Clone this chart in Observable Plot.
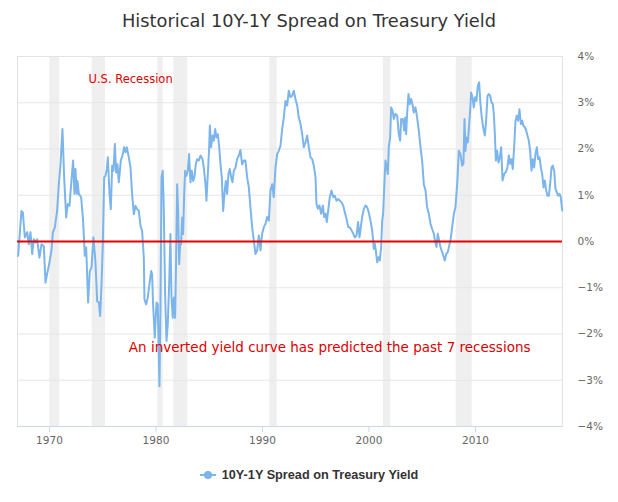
<!DOCTYPE html>
<html>
<head>
<meta charset="utf-8">
<script src="https://cdn.jsdelivr.net/npm/d3@7"></script>
<script src="https://cdn.jsdelivr.net/npm/@observablehq/plot@0.6"></script>
<style>
  html, body { margin: 0; padding: 0; background: #fff; }
  #wrap { width: 618px; height: 502px; overflow: hidden; }
  #title { height: 42px; box-sizing: border-box; padding-top: 11px; text-align: center;
    font-family: "DejaVu Sans", sans-serif; font-size: 17.8px; line-height: 20px; color: #333; }
  #chart svg { display: block; }
  #legend { box-sizing: border-box; padding-top: 3px; display: flex; justify-content: center; align-items: center;
    font-family: "Liberation Sans", Arial, sans-serif; font-weight: bold; font-size: 12.7px; line-height: 16px; color: #333; height: 22px; }
  #legend svg { margin-right: 6px; }
</style>
</head>
<body>
<div id="wrap">
  <div id="title">Historical 10Y-1Y Spread on Treasury Yield</div>
  <div id="chart"></div>
  <div id="legend"></div>
</div>
<script>
// ---- data (decimal years, % spread) ----
const years = [
  1967.06,1967.37,1967.50,1967.69,1967.91,1968.06,1968.22,1968.38,1968.53,1968.69,1968.84,
  1969.06,1969.25,1969.47,1969.63,1969.78,1969.94,1970.19,1970.32,1970.50,1970.72,1970.88,
  1971.04,1971.22,1971.38,1971.57,1971.72,1971.88,1972.04,1972.22,1972.35,1972.44,1972.57,
  1972.63,1972.76,1972.98,1973.16,1973.32,1973.45,1973.63,1973.79,1973.95,1974.13,1974.32,
  1974.48,1974.64,1974.76,1974.89,1975.01,1975.14,1975.26,1975.39,1975.48,1975.64,1975.76,
  1975.89,1976.01,1976.14,1976.26,1976.39,1976.51,1976.70,1976.89,1977.01,1977.14,1977.26,
  1977.45,1977.61,1977.76,1977.92,1978.08,1978.23,1978.39,1978.55,1978.70,1978.86,1978.92,
  1979.08,1979.23,1979.39,1979.55,1979.64,1979.73,1979.89,1980.05,1980.17,1980.33,1980.42,
  1980.52,1980.64,1980.74,1980.86,1980.99,1981.11,1981.24,1981.36,1981.46,1981.58,1981.68,
  1981.80,1981.89,1981.99,1982.08,1982.18,1982.27,1982.36,1982.46,1982.55,1982.65,1982.74,
  1982.86,1982.99,1983.11,1983.24,1983.36,1983.49,1983.61,1983.74,1983.86,1984.02,1984.18,
  1984.37,1984.49,1984.65,1984.74,1984.87,1984.99,1985.06,1985.18,1985.31,1985.43,1985.56,
  1985.68,1985.81,1985.93,1986.06,1986.18,1986.31,1986.43,1986.56,1986.68,1986.81,1986.93,
  1987.06,1987.18,1987.31,1987.47,1987.62,1987.78,1987.93,1988.09,1988.25,
  1988.40,1988.56,1988.72,1988.87,1989.03,1989.19,1989.34,1989.50,1989.66,1989.81,1989.97,
  1990.13,1990.28,1990.44,1990.60,1990.75,1990.91,1991.06,1991.22,1991.38,1991.53,1991.69,
  1991.85,1992.00,1992.16,1992.32,1992.47,1992.63,1992.79,1992.94,1993.10,1993.26,1993.41,
  1993.57,1993.73,1993.88,1994.04,1994.20,1994.35,1994.51,1994.67,1994.82,1994.98,1995.07,
  1995.20,1995.35,1995.51,1995.67,1995.79,1995.92,1996.04,1996.17,1996.32,1996.48,1996.64,
  1996.79,1996.95,1997.11,1997.26,1997.42,1997.58,1997.73,1997.89,1998.05,1998.20,1998.36,
  1998.52,1998.67,1998.83,1998.98,1999.11,
  1999.36,1999.51,1999.67,1999.83,1999.98,2000.14,2000.30,2000.39,2000.45,2000.55,2000.64,
  2000.77,2000.89,2001.02,2001.14,2001.24,2001.33,2001.46,2001.55,2001.64,2001.77,2001.86,
  2001.99,2002.08,2002.21,2002.33,2002.49,2002.65,2002.80,2002.93,2003.02,2003.18,2003.30,
  2003.40,2003.49,2003.58,2003.71,2003.83,2003.96,2004.08,2004.21,2004.37,2004.52,2004.68,
  2004.84,2004.99,2005.15,2005.31,2005.46,2005.62,2005.78,2005.93,2006.09,2006.25,2006.34,
  2006.46,2006.59,2006.71,2006.87,2007.03,2007.12,2007.25,2007.40,2007.53,2007.65,2007.81,
  2007.97,
  2008.12,2008.28,2008.44,2008.59,2008.75,2008.87,2008.97,2009.06,2009.15,2009.28,2009.41,
  2009.50,2009.59,2009.72,2009.84,2009.97,2010.09,2010.22,2010.34,2010.47,2010.59,2010.75,
  2010.88,2011.00,2011.13,2011.25,2011.38,2011.50,2011.63,2011.72,2011.82,2011.91,2012.03,
  2012.16,2012.29,2012.41,2012.54,2012.69,2012.85,2013.00,2013.13,2013.26,2013.38,2013.50,
  2013.63,2013.76,2013.88,2014.00,2014.13,2014.26,2014.38,2014.51,2014.63,2014.76,2014.88,
  2015.01,2015.13,2015.26,2015.38,2015.51,2015.63,2015.76,2015.88,2016.01,2016.14,2016.26,
  2016.39,2016.51,2016.64,2016.76,2016.89,2017.01,2017.14,2017.26,2017.39,2017.51,2017.64,
  2017.76,2017.89,2018.01,2018.14
];
const spread = [
  -0.31,0.66,0.63,0.09,0.20,-0.06,0.20,-0.27,0.05,-0.02,0.05,
  -0.35,-0.06,-0.10,-0.89,-0.70,-0.53,-0.20,0.20,0.30,0.66,1.24,
  1.67,2.43,1.39,0.52,0.81,0.77,1.24,1.75,1.03,1.57,1.03,
  1.31,1.03,0.95,0.45,-0.31,-0.13,-1.32,-0.64,-0.56,0.09,-0.45,
  -1.29,-1.32,-1.61,-0.92,-0.06,1.39,1.42,1.57,1.82,1.03,0.70,
  1.64,1.53,2.11,1.49,1.67,1.28,1.75,1.89,2.04,1.93,2.04,
  1.82,1.60,1.03,0.59,0.77,0.70,0.66,0.34,0.23,-0.35,-1.25,
  -1.36,-1.21,-0.92,-0.64,-0.71,-1.36,-2.08,-1.32,-1.36,-3.13,-1.50,
  1.39,1.53,0.66,-1.14,-2.15,-1.79,-0.92,0.16,-1.21,-1.65,-1.21,
  -1.65,-0.42,1.24,0.66,-0.49,-0.06,-0.06,0.52,0.16,1.03,1.53,
  1.42,1.53,1.89,1.28,1.53,1.31,1.39,1.67,1.78,1.75,1.86,
  1.78,1.60,1.24,0.88,1.46,2.00,2.51,2.04,2.29,2.18,2.43,
  2.25,2.32,2.07,1.67,1.39,0.66,1.03,1.31,1.03,1.46,1.57,
  1.39,1.28,1.53,1.60,1.78,1.86,1.98,1.67,1.75,
  1.75,1.39,1.17,0.74,0.31,0.02,-0.27,-0.19,0.13,-0.19,0.17,
  0.31,0.38,0.53,0.45,1.10,1.24,0.96,1.60,1.89,1.96,2.07,
  2.43,2.68,3.04,2.94,3.26,3.12,3.15,3.26,3.08,2.94,2.68,
  2.54,2.32,2.04,2.14,2.29,2.04,1.82,1.78,1.64,1.39,0.81,
  0.71,0.78,0.60,0.78,0.53,0.60,0.42,0.67,0.96,1.10,0.96,
  0.99,0.88,0.92,0.88,0.85,0.78,0.63,0.49,0.31,0.31,0.24,
  0.17,0.09,0.13,0.42,0.09,
  0.53,0.70,0.78,0.74,0.63,0.45,0.24,0.02,-0.16,-0.05,-0.19,
  -0.45,-0.34,-0.41,-0.12,0.45,0.60,1.32,1.75,1.64,1.46,2.04,
  2.25,2.90,2.83,2.65,2.76,2.72,2.32,2.18,2.65,2.65,2.40,
  2.68,2.32,2.76,3.19,2.97,3.08,2.97,2.79,2.90,2.68,2.40,
  2.04,1.75,1.24,1.10,0.74,0.60,0.38,0.27,0.17,-0.05,-0.12,
  0.17,0.02,-0.12,-0.23,-0.34,-0.41,-0.27,-0.23,-0.09,0.02,0.31,
  0.60,
  0.74,1.24,1.96,1.89,1.64,1.68,2.65,1.96,2.25,2.14,2.54,
  2.83,3.22,3.12,2.90,3.12,3.04,3.37,3.44,2.97,2.68,2.43,
  2.29,2.61,3.15,3.19,3.15,3.01,2.97,2.76,2.32,1.75,1.96,
  1.71,1.82,2.04,1.32,1.46,1.50,1.60,1.86,1.68,1.78,1.57,
  2.04,2.61,2.72,2.61,2.86,2.54,2.61,2.50,2.47,2.40,2.29,
  2.18,1.96,1.53,1.78,1.60,1.89,2.04,1.78,1.82,1.60,1.46,
  1.17,1.32,1.10,0.99,0.99,1.24,1.60,1.64,1.53,1.14,1.06,
  0.99,1.03,0.96,0.67
];
const recessionStart = [1970.03, 1974.01, 1980.17, 1981.68, 1990.68, 2001.35, 2008.19];
const recessionEnd   = [1970.97, 1975.26, 1980.68, 1982.99, 1991.38, 2002.05, 2009.69];
const xTicks = [1970, 1980, 1990, 2000, 2010];
const yTicks = [-4, -3, -2, -1, 0, 1, 2, 3, 4];
const noteLabels = ["U.S. Recession", "An inverted yield curve has predicted the past 7 recessions"];
const noteYears  = [1973.67, 1977.45];
const noteValues = [3.51, -2.30];
const seriesName = "10Y-1Y Spread on Treasury Yield";

// ---- build tables ----
const data = years.map((y, i) => ({year: y, value: spread[i]}));
const bands = recessionStart.map((s, i) => ({start: s, end: recessionEnd[i]}));
const notes = noteLabels.map((t, i) => ({label: t, year: noteYears[i], value: noteValues[i]}));
const pct = d => (d < 0 ? "\u2212" + (-d) : String(d)) + "%";

const chart = Plot.plot({
  width: 618,
  height: 420,
  marginTop: 14,
  marginBottom: 36,
  marginLeft: 17,
  marginRight: 56,
  style: {fontFamily: "'DejaVu Sans', sans-serif", fontSize: "10.5px", background: "#fff", overflow: "visible"},
  x: {type: "linear", domain: [1967.0, 2018.17]},
  y: {domain: [-4, 4]},
  marks: [
    Plot.rect(bands, {x1: "start", x2: "end", y1: -4, y2: 4, fill: "#efefef"}),
    Plot.gridY(yTicks, {stroke: "#e6e6e6", strokeOpacity: 1}),
    Plot.frame({stroke: "#e3e3e3"}),
    Plot.ruleY([-4], {stroke: "#ccd6eb"}),
    Plot.lineY(data, {x: "year", y: "value", stroke: "#7cb5ec", strokeWidth: 2, curve: "linear"}),
    Plot.ruleY([0], {stroke: "#e60000", strokeWidth: 2}),
    Plot.axisY(yTicks, {anchor: "right", tickSize: 0, tickPadding: 15, tickFormat: pct, fill: "#666", label: null, textAnchor: "start"}),
    Plot.axisX(xTicks, {anchor: "bottom", tickSize: 6, tickPadding: 4, stroke: "#ccd6eb", fill: "#666", tickFormat: d => String(d), label: null}),
    Plot.text(notes.slice(0, 1), {x: "year", y: "value", text: "label", fill: "#e00000", textAnchor: "start", fontSize: 11.5}),
    Plot.text(notes.slice(1), {x: "year", y: "value", text: "label", fill: "#e00000", textAnchor: "start", fontSize: 13.5})
  ]
});
document.getElementById("chart").appendChild(chart);

// legend
const legend = document.getElementById("legend");
legend.innerHTML = '<svg width="16" height="10"><line x1="0" x2="16" y1="5" y2="5" stroke="#7cb5ec" stroke-width="2"/><circle cx="8" cy="5" r="4" fill="#7cb5ec"/></svg>';
const span = document.createElement("span");
span.textContent = seriesName;
legend.appendChild(span);
</script>
</body>
</html>
